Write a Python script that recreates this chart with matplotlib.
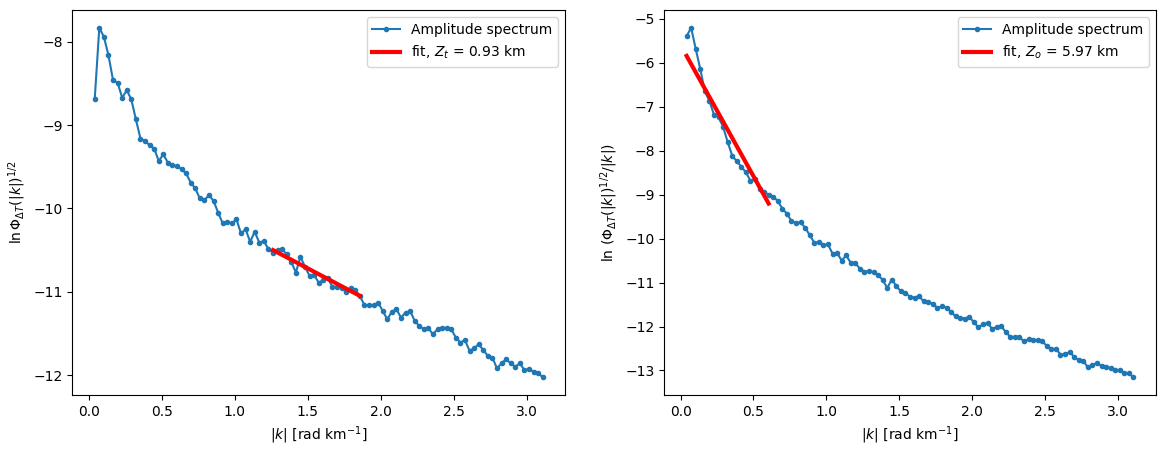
import numpy as np
import matplotlib
matplotlib.use("Agg")
import matplotlib.pyplot as plt

# wavenumber grid (rad/km), 99 samples
k = np.linspace(0.041, 3.108, 99)

# ln of amplitude spectrum (centroid estimate)
ln_amp = [
    -8.68, -7.83, -7.94, -8.16, -8.46, -8.49, -8.67, -8.58, -8.69, -8.93,
    -9.16, -9.19, -9.24, -9.28, -9.43, -9.35, -9.45, -9.48, -9.49, -9.53,
    -9.58, -9.69, -9.76, -9.88, -9.90, -9.84, -9.91, -10.05, -10.18, -10.16,
    -10.18, -10.13, -10.30, -10.25, -10.40, -10.28, -10.41, -10.39, -10.49, -10.53,
    -10.50, -10.49, -10.55, -10.64, -10.77, -10.58, -10.70, -10.81, -10.80, -10.89,
    -10.86, -10.84, -10.94, -10.94, -10.96, -11.00, -10.96, -10.98, -11.05, -11.16,
    -11.16, -11.16, -11.13, -11.23, -11.33, -11.24, -11.21, -11.31, -11.25, -11.23,
    -11.35, -11.41, -11.45, -11.44, -11.51, -11.45, -11.44, -11.43, -11.45, -11.55,
    -11.61, -11.58, -11.71, -11.68, -11.63, -11.70, -11.77, -11.79, -11.92, -11.86,
    -11.81, -11.86, -11.90, -11.86, -11.94, -11.93, -11.96, -11.97, -12.03,
]

# ln of amplitude spectrum divided by |k| (top estimate)
ln_amp_k = [
    -5.39, -5.20, -5.68, -6.14, -6.65, -6.86, -7.18, -7.24, -7.45, -7.80,
    -8.11, -8.24, -8.36, -8.49, -8.68, -8.64, -8.86, -8.94, -9.00, -9.05,
    -9.14, -9.32, -9.43, -9.60, -9.64, -9.63, -9.75, -9.92, -10.09, -10.08,
    -10.15, -10.13, -10.34, -10.32, -10.50, -10.38, -10.55, -10.56, -10.68, -10.75,
    -10.74, -10.76, -10.83, -10.94, -11.12, -10.93, -11.08, -11.20, -11.24, -11.32,
    -11.34, -11.31, -11.43, -11.45, -11.48, -11.58, -11.54, -11.57, -11.67, -11.77,
    -11.80, -11.82, -11.78, -11.90, -12.02, -11.95, -11.92, -12.05, -12.01, -11.99,
    -12.13, -12.23, -12.24, -12.24, -12.34, -12.29, -12.30, -12.31, -12.34, -12.44,
    -12.52, -12.50, -12.64, -12.63, -12.58, -12.69, -12.77, -12.78, -12.93, -12.88,
    -12.83, -12.90, -12.93, -12.94, -13.00, -13.00, -13.05, -13.06, -13.16,
]

# linear fits: end points
fit_t_k = [1.262, 1.857]
fit_t_y = [-10.50, -11.05]
fit_o_k = [0.041, 0.604]
fit_o_y = [-5.84, -9.20]

Zt = 0.93
Zo = 5.97

fig = plt.figure(figsize=(11.67, 4.51), dpi=100)
ax1 = fig.add_axes([0.062, 0.1242, 0.4222, 0.853])
ax2 = fig.add_axes([0.5692, 0.1242, 0.4212, 0.853])

ax1.plot(k, ln_amp, '.-', label='Amplitude spectrum')
ax1.plot(fit_t_k, fit_t_y, 'r', lw=3, label=r'fit, $Z_t$ = %.2f km' % Zt)
ax1.set_xlabel(r'$|k|$ [rad km$^{-1}$]')
ax1.set_ylabel(r'$\ln\Phi_{\Delta T}(|k|)^{1/2}$')
ax1.legend(loc='upper right')

ax2.plot(k, ln_amp_k, '.-', label='Amplitude spectrum')
ax2.plot(fit_o_k, fit_o_y, 'r', lw=3, label=r'fit, $Z_o$ = %.2f km' % Zo)
ax2.set_xlabel(r'$|k|$ [rad km$^{-1}$]')
ax2.set_ylabel(r'$\ln\,(\Phi_{\Delta T}(|k|)^{1/2}/|k|)$')
ax2.legend(loc='upper right')

fig.savefig('out.png', dpi=100)
